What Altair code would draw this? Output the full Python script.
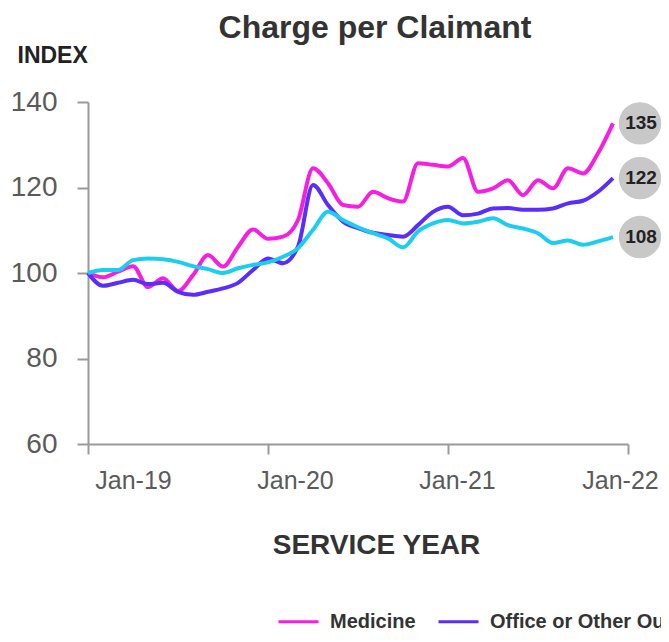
import altair as alt
import pandas as pd

FONT = "Liberation Sans"

# ---- data ----
months = list(range(36))  # 0 = Jan-19 ... 35 = Dec-21
series_names = ["Medicine", "Office or Other Outpatient Services", "Surgery"]
medicine = [100.0, 99.0, 100.3, 101.6, 96.7, 98.8, 95.8, 99.5, 104.2, 101.5, 106.1, 110.2,
            108.0, 108.5, 112.4, 124.5, 121.0, 115.9, 115.5, 119.0, 117.5, 116.7, 125.7, 125.3,
            124.9, 126.9, 119.0, 119.8, 121.7, 118.2, 121.7, 119.8, 124.5, 123.3, 128.0, 135.0]
office = [100.0, 97.0, 97.7, 98.4, 97.4, 97.7, 95.6, 94.9, 95.6, 96.4, 97.7, 100.7,
          103.4, 102.3, 106.2, 120.6, 115.9, 112.0, 110.5, 109.4, 108.9, 108.5, 111.2, 114.3,
          115.5, 113.5, 113.9, 115.1, 115.2, 114.8, 114.8, 115.1, 116.3, 116.9, 119.0, 122.2]
surgery = [100.0, 100.7, 100.7, 103.0, 103.4, 103.2, 102.6, 101.6, 100.9, 100.0, 101.1, 101.9,
           102.5, 103.8, 105.8, 110.1, 114.3, 112.4, 110.7, 109.3, 108.1, 106.0, 109.7, 111.6,
           112.4, 111.6, 112.0, 112.8, 111.2, 110.4, 109.3, 107.0, 107.6, 106.6, 107.4, 108.4]
colors = ["#f41fe0", "#5a2dfa", "#1ccdf0"]
tick_values = [0, 12, 24, 36]
tick_labels = ["Jan-19", "Jan-20", "Jan-21", "Jan-22"]
y_ticks = [60, 80, 100, 120, 140]

rows = []
for name, vals in zip(series_names, [medicine, office, surgery]):
    for m, v in zip(months, vals):
        rows.append({"month": m, "series": name, "value": v})
df = pd.DataFrame(rows)

end_df = pd.DataFrame({
    "series": series_names,
    "month": [months[-1]] * 3,
    "value": [medicine[-1], office[-1], surgery[-1]],
})

label_expr = " : ".join(
    [f"datum.value == {v} ? '{t}'" for v, t in zip(tick_values, tick_labels)] + ["''"]
)

x_enc = alt.X(
    "month:Q",
    scale=alt.Scale(domain=[0, 36], nice=False, zero=False),
    axis=alt.Axis(
        values=tick_values, labelExpr=label_expr, title="SERVICE YEAR", grid=False,
        tickSize=10, labelFontSize=25, labelPadding=14, labelFlush=False,
        labelColor="#5a5a5a", labelFont=FONT,
        labelOffset={"condition": [
            {"test": "datum.value == 0", "value": 45},
            {"test": "datum.value == 12", "value": 27},
            {"test": "datum.value == 24", "value": 9},
        ], "value": -8},
        domainColor="#9a9a9a", tickColor="#9a9a9a", domainWidth=2, tickWidth=2,
        titleFont=FONT, titleFontSize=28, titleFontWeight="bold", titleColor="#333333",
        titleX=288, titleY=109, titleAlign="center", titleBaseline="alphabetic",
    ),
)
y_enc = alt.Y(
    "value:Q",
    scale=alt.Scale(domain=[60, 140], nice=False, zero=False),
    axis=alt.Axis(
        values=y_ticks, grid=False, tickSize=11, labelFontSize=28, labelPadding=20,
        labelColor="#5a5a5a", labelFont=FONT,
        domainColor="#9a9a9a", tickColor="#9a9a9a", domainWidth=2, tickWidth=2,
        title="INDEX", titleAngle=0, titleAlign="left", titleBaseline="alphabetic",
        titleX=-71, titleY=-40, titleFont=FONT, titleFontSize=23,
        titleFontWeight="bold", titleColor="#222222",
    ),
)
color_enc = alt.Color(
    "series:N",
    scale=alt.Scale(domain=series_names, range=colors),
    legend=alt.Legend(
        orient="none", direction="horizontal", legendX=189, legendY=498, title=None,
        symbolType="stroke", symbolSize=1600, symbolStrokeWidth=3,
        labelFontSize=20, labelFontWeight="bold", labelColor="#333333", labelFont=FONT,
        labelOffset=10, columnPadding=16, labelLimit=1000,
    ),
)

lines = alt.Chart(df).mark_line(strokeWidth=4, interpolate="monotone").encode(
    x=x_enc, y=y_enc, color=color_enc, detail="series:N"
)

end_base = alt.Chart(end_df).transform_calculate(
    dy="datum.series == 'Medicine' ? -12 : 0"
)
circles = end_base.mark_circle(size=1800, color="#c8c8c8", opacity=1).encode(
    x="month:Q", y="value:Q",
    xOffset=alt.value(27),
    yOffset=alt.YOffset("dy:Q", scale=None),
)
texts = end_base.mark_text(
    font=FONT, fontSize=19, fontWeight="bold", color="#222222", baseline="middle", align="center"
).encode(
    x="month:Q", y="value:Q",
    text=alt.Text("value:Q", format=".0f"),
    xOffset=alt.value(28),
    yOffset=alt.YOffset("dy:Q", scale=None),
)

chart = alt.layer(lines, circles, texts).properties(
    width=540, height=342,
    title=alt.TitleParams("Charge per Claimant", font=FONT, fontSize=32, fontWeight="bold",
                          color="#333333", anchor="middle", dx=17, dy=5, offset=4),
    autosize=alt.AutoSizeParams(type="none"),
    padding={"left": 80, "top": 94, "right": 33, "bottom": 190},
).configure_view(stroke=None)

chart.save("out.html", embed_options={"renderer": "svg", "actions": False})
